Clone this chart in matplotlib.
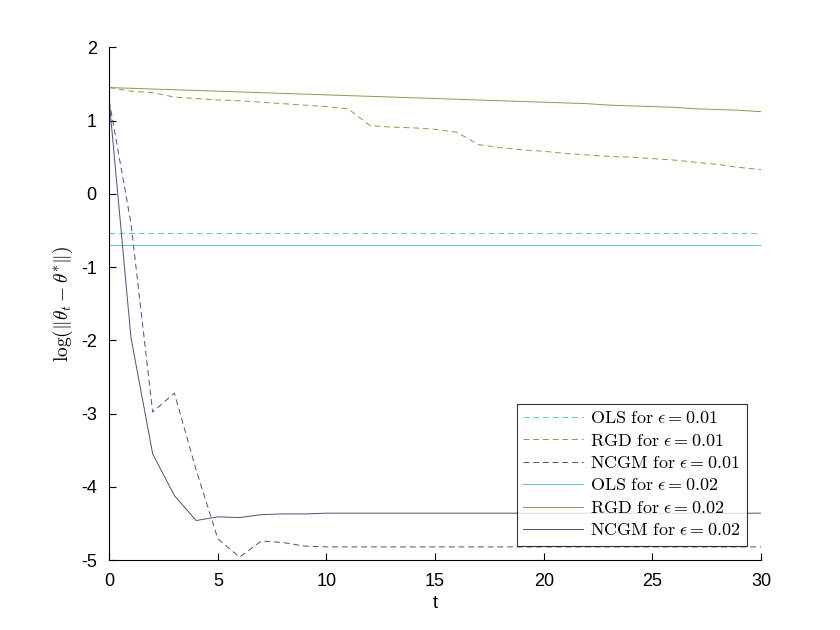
import numpy as np
import matplotlib
matplotlib.use("Agg")
import matplotlib.pyplot as plt

plt.rcParams['mathtext.fontset'] = 'cm'
plt.rcParams['font.family'] = ['Liberation Sans', 'DejaVu Sans']
plt.rcParams['axes.unicode_minus'] = False

t = np.arange(0, 31)

ols_01 = -0.53
ols_02 = -0.70

rgd_01 = [1.45, 1.40, 1.38, 1.32, 1.30, 1.28, 1.27, 1.25, 1.23, 1.21, 1.19,
          1.16, 0.93, 0.91, 0.90, 0.88, 0.84, 0.67, 0.63, 0.60, 0.58, 0.55,
          0.53, 0.51, 0.50, 0.48, 0.46, 0.43, 0.40, 0.36, 0.33]
rgd_02 = [1.45, 1.44, 1.43, 1.42, 1.41, 1.40, 1.39, 1.38, 1.37, 1.36, 1.35,
          1.34, 1.33, 1.32, 1.31, 1.30, 1.29, 1.28, 1.27, 1.26, 1.25, 1.24,
          1.23, 1.21, 1.20, 1.19, 1.18, 1.16, 1.15, 1.14, 1.12]
ncgm_01 = [1.27, -0.40, -2.98, -2.72, -3.77, -4.71, -4.96, -4.74, -4.76, -4.81,
           -4.82, -4.82, -4.82, -4.82, -4.82, -4.82, -4.82, -4.82, -4.82, -4.82,
           -4.82, -4.82, -4.82, -4.82, -4.82, -4.82, -4.82, -4.82, -4.82, -4.82, -4.82]
ncgm_02 = [1.27, -1.96, -3.55, -4.12, -4.46, -4.41, -4.42, -4.38, -4.37, -4.37,
           -4.36, -4.36, -4.36, -4.36, -4.36, -4.36, -4.36, -4.36, -4.36, -4.36,
           -4.36, -4.36, -4.36, -4.36, -4.36, -4.36, -4.36, -4.36, -4.36, -4.36, -4.36]

c_ols = '#5cc3d6'
c_rgd = '#8a9a50'
c_ncgm = '#524e78'

fig = plt.figure(figsize=(8.4, 6.3), dpi=100)
ax = fig.add_axes([0.13, 0.111, 0.776, 0.814])

lw = 0.7
ax.plot(t, np.full(len(t), ols_01), '--', color=c_ols, lw=lw, dashes=(6, 4),
        label=r'$\mathrm{OLS\ for\ }\epsilon = 0.01$')
ax.plot(t, rgd_01, '--', color=c_rgd, lw=lw, dashes=(6, 4),
        label=r'$\mathrm{RGD\ for\ }\epsilon = 0.01$')
ax.plot(t, ncgm_01, '--', color=c_ncgm, lw=lw, dashes=(6, 4),
        label=r'$\mathrm{NCGM\ for\ }\epsilon = 0.01$')
ax.plot(t, np.full(len(t), ols_02), '-', color=c_ols, lw=lw,
        label=r'$\mathrm{OLS\ for\ }\epsilon = 0.02$')
ax.plot(t, rgd_02, '-', color=c_rgd, lw=lw,
        label=r'$\mathrm{RGD\ for\ }\epsilon = 0.02$')
ax.plot(t, ncgm_02, '-', color=c_ncgm, lw=lw,
        label=r'$\mathrm{NCGM\ for\ }\epsilon = 0.02$')

ax.set_xlim(0, 30)
ax.set_ylim(-5, 2)
ax.set_xticks(range(0, 31, 5))
ax.set_yticks(range(-5, 3))
ax.spines['top'].set_visible(False)
ax.spines['right'].set_visible(False)
ax.tick_params(direction='in', labelsize=13, length=5, width=0.8, pad=9)
ax.set_xlabel('t', fontsize=13, labelpad=4)
ax.set_ylabel(r'$\log(\|\theta_t - \theta^{*}\|)$', fontsize=14, labelpad=4)

leg = ax.legend(loc='lower right', fontsize=13, frameon=True, fancybox=False,
                edgecolor='black', handlelength=3.3, handletextpad=0.4,
                borderpad=0.35, labelspacing=0.3, borderaxespad=0.8)
leg.get_frame().set_linewidth(0.8)

plt.savefig("out.png", dpi=100)
